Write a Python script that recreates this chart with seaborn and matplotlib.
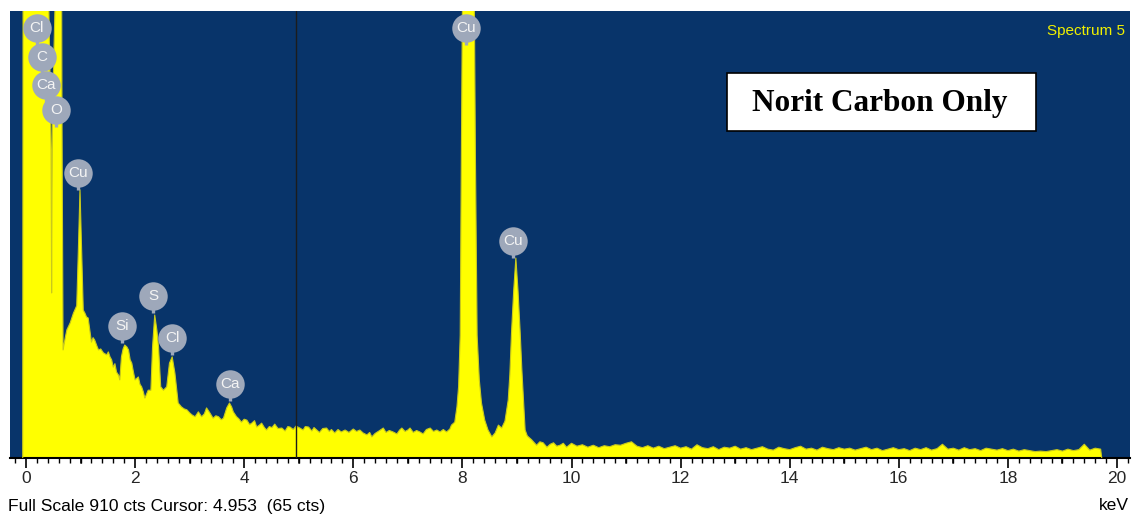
import numpy as np
import matplotlib
matplotlib.use("Agg")
import matplotlib.pyplot as plt
import seaborn as sns
from matplotlib.ticker import MultipleLocator
from matplotlib.patches import Rectangle

# Espectro EDS (keV, cuentas)
energia_bajo = [-0.06, -0.05, 0.41, 0.42, 0.45, 0.46, 0.47, 0.48, 0.49, 0.53, 0.54, 0.64,
                0.66, 0.68, 0.72, 0.75, 0.81, 0.87, 0.93, 0.96, 0.99, 1.02, 1.05, 1.08,
                1.11, 1.14, 1.17, 1.20, 1.23, 1.26, 1.30, 1.33, 1.37, 1.42, 1.48, 1.51,
                1.54, 1.57, 1.60, 1.63, 1.66, 1.70, 1.72, 1.75, 1.78, 1.81, 1.85, 1.88,
                1.91, 1.94, 1.97, 2.00, 2.06, 2.09, 2.12, 2.15, 2.18, 2.21, 2.24, 2.29,
                2.32, 2.36, 2.40, 2.43, 2.47, 2.52, 2.58, 2.63, 2.68, 2.73, 2.79, 2.85,
                2.90, 2.95, 3.00, 3.04, 3.10, 3.16, 3.22, 3.27, 3.31, 3.37, 3.43, 3.48,
                3.53, 3.58, 3.62, 3.68, 3.73, 3.77, 3.80, 3.86, 3.90, 3.95, 4.00]
cuentas_bajo = [0, 1500, 1500, 910, 720, 627, 336, 627, 720, 910, 1500, 1500,
                700, 220, 245, 261, 275, 295, 310, 423, 546, 423, 301, 295,
                287, 285, 261, 236, 245, 240, 228, 220, 222, 214, 210, 216,
                206, 200, 185, 192, 175, 168, 159, 206, 222, 230, 226, 220,
                200, 193, 175, 159, 165, 150, 145, 135, 122, 130, 138, 138,
                226, 291, 260, 226, 145, 138, 145, 193, 206, 173, 112, 104,
                100, 98, 92, 88, 84, 94, 84, 90, 102, 92, 81, 86,
                84, 78, 81, 102, 112, 104, 94, 84, 80, 73, 79]

energia_medio = [4.05, 4.10, 4.14, 4.19, 4.23, 4.28, 4.32, 4.37, 4.41, 4.46, 4.51, 4.56,
                 4.62, 4.69, 4.75, 4.80, 4.84, 4.90, 4.95, 5.02, 5.08, 5.12, 5.18, 5.24,
                 5.28, 5.33, 5.38, 5.44, 5.51, 5.56, 5.60, 5.66, 5.72, 5.78, 5.85, 5.92,
                 6.00, 6.06, 6.12, 6.18, 6.25, 6.30, 6.34, 6.40, 6.47, 6.55, 6.60, 6.66,
                 6.73, 6.80, 6.85, 6.89, 6.95, 7.00, 7.04, 7.10, 7.16, 7.22, 7.28, 7.34,
                 7.41, 7.47, 7.53, 7.59, 7.65, 7.71, 7.77, 7.80, 7.86, 7.90, 7.93, 7.96,
                 7.98, 8.00, 8.02, 8.20, 8.22, 8.24, 8.27, 8.31, 8.35, 8.41, 8.47, 8.54,
                 8.60, 8.66, 8.72, 8.78, 8.84, 8.87, 8.90, 8.94, 8.98, 9.02, 9.06, 9.09,
                 9.12, 9.15, 9.19, 9.27, 9.36, 9.42, 9.48, 9.55, 9.61, 9.67, 9.73, 9.79,
                 9.85, 9.91]
cuentas_medio = [77, 68, 71, 76, 63, 67, 71, 62, 57, 64, 62, 69,
                 60, 61, 55, 64, 63, 58, 65, 61, 57, 64, 63, 55,
                 62, 57, 52, 60, 61, 54, 58, 51, 58, 53, 57, 52,
                 59, 54, 57, 51, 47, 52, 43, 50, 55, 61, 52, 56,
                 53, 49, 57, 61, 54, 57, 61, 52, 56, 53, 49, 58,
                 61, 54, 57, 53, 58, 53, 59, 67, 73, 104, 145, 250,
                 600, 910, 1400, 1400, 910, 600, 250, 159, 112, 77, 57, 43,
                 51, 67, 61, 75, 118, 170, 254, 340, 407, 340, 254, 180,
                 118, 57, 45, 37, 26, 33, 31, 22, 28, 31, 24, 26,
                 30, 22]

energia_alto = [10.0, 10.1, 10.2, 10.3, 10.4, 10.5, 10.6, 10.7, 10.8, 10.9,
                11.0, 11.1, 11.2, 11.3, 11.4, 11.5, 11.6, 11.7, 11.8, 11.9,
                12.0, 12.1, 12.2, 12.3, 12.4, 12.5, 12.6, 12.7, 12.8, 12.9,
                13.0, 13.1, 13.2, 13.3, 13.4, 13.5, 13.6, 13.7, 13.8, 13.9,
                14.0, 14.1, 14.2, 14.3, 14.4, 14.5, 14.6, 14.7, 14.8, 14.9,
                15.0, 15.1, 15.2, 15.3, 15.4, 15.5, 15.6, 15.7, 15.8, 15.9,
                16.0, 16.1, 16.2, 16.3, 16.4, 16.5, 16.6, 16.7, 16.8, 16.9,
                17.0, 17.1, 17.2, 17.3, 17.4, 17.5, 17.6, 17.7, 17.8, 17.9,
                18.0, 18.1, 18.2, 18.3, 18.4, 18.5, 18.6, 18.7, 18.8, 18.9,
                19.0, 19.1, 19.2, 19.3, 19.4, 19.5, 19.6, 19.7, 19.72]
cuentas_alto = [30, 24, 27, 22, 26, 21, 25, 23, 27, 26,
                30, 33, 24, 21, 25, 20, 24, 19, 22, 25,
                20, 23, 18, 27, 21, 19, 23, 17, 22, 20,
                24, 18, 21, 17, 20, 23, 18, 16, 22, 19,
                17, 21, 24, 18, 20, 16, 22, 19, 17, 21,
                18, 20, 16, 19, 22, 17, 20, 15, 18, 21,
                17, 19, 15, 20, 17, 21, 16, 19, 28, 18,
                20, 16, 21, 17, 19, 15, 20, 18, 16, 19,
                15, 18, 14, 17, 15, 13, 14, 13, 15, 17,
                14, 18, 15, 17, 28, 16, 20, 18, 0]

# Etiquetas de elementos (nombre, keV, cuentas del centro del circulo)
elementos = ["Cl", "C", "Ca", "O", "Cu", "Si", "S", "Cl", "Ca", "Cu", "Cu"]
elem_kev = [0.20, 0.29, 0.37, 0.55, 0.95, 1.76, 2.33, 2.68, 3.74, 8.07, 8.93]
elem_cts = [875, 816, 759, 708, 580, 269, 330, 244, 151, 875, 442]

escala_total = 910
cursor_kev = 4.953
cursor_cts = 65

energia = np.array(energia_bajo + energia_medio + energia_alto)
cuentas = np.array(cuentas_bajo + cuentas_medio + cuentas_alto)

sns.set_theme(style="white")
plt.rcParams["font.family"] = ["Liberation Sans", "DejaVu Sans"]

fondo = "#08346a"
amarillo = "#ffff00"

fig = plt.figure(figsize=(11.35, 5.16), dpi=100, facecolor="white")
ax = fig.add_axes([10 / 1135, 58 / 516, 1120 / 1135, 447 / 516])
ax.set_facecolor(fondo)

ax.fill_between(energia, 0, cuentas, color=amarillo, linewidth=0, zorder=2)
sns.lineplot(x=energia, y=cuentas, ax=ax, color="#c9c91c", linewidth=0.8,
             sort=False, estimator=None, zorder=3)

# cursor
ax.axvline(cursor_kev, color="#1c1c1c", linewidth=1.0, zorder=4)

# etiquetas de picos
tallo = 35
for nombre, xk, yc in zip(elementos, elem_kev, elem_cts):
    ax.plot([xk, xk], [yc, yc - tallo], color="#9ea8ba", linewidth=2.4,
            zorder=5, clip_on=False, solid_capstyle="butt")
    ax.plot(xk, yc, marker="o", markersize=20.5, color="#9ea8ba",
            markeredgewidth=0, zorder=6, clip_on=False)
    ax.text(xk, yc, nombre, color="#f4f4f4", fontsize=11, ha="center",
            va="center", zorder=7, clip_on=False)

ax.set_xlim(-0.293, 20.238)
ax.set_ylim(0, escala_total)

ax.xaxis.set_major_locator(MultipleLocator(2))
ax.xaxis.set_minor_locator(MultipleLocator(0.2))
ax.tick_params(axis="x", which="major", direction="out", length=7, width=1.2,
               color="black", labelsize=12.5, pad=2.5, bottom=True)
ax.tick_params(axis="x", which="minor", direction="out", length=3.5, width=1,
               color="black", bottom=True)
ax.set_yticks([])
ax.set_xlabel("")
ax.set_ylabel("")

for lado in ["top", "right", "left"]:
    ax.spines[lado].set_visible(False)
ax.spines["bottom"].set_color("black")
ax.spines["bottom"].set_linewidth(1.5)

# ticks medianos en cada keV impar
for k in range(1, 20, 2):
    ax.plot([k, k], [0, -11], color="black", linewidth=1.2, clip_on=False, zorder=1)

ax.text(0.9955, 0.972, "Spectrum 5", transform=ax.transAxes, color="#f0f000",
        fontsize=11, ha="right", va="top")

# recuadro del titulo
caja = Rectangle((727 / 1135, 1 - 131 / 516), 309 / 1135, 58 / 516,
                 transform=fig.transFigure, facecolor="white", edgecolor="black",
                 linewidth=1.2, zorder=10)
fig.add_artist(caja)
fig.text(880 / 1135, 1 - 103 / 516, "Norit Carbon Only", fontsize=22.5,
         fontweight="bold", family="Liberation Serif", ha="center", va="center",
         color="black", zorder=11)

fig.text(8 / 1135, 1 - 506 / 516,
         f"Full Scale {escala_total} cts Cursor: {cursor_kev:.3f}  ({cursor_cts} cts)",
         fontsize=12.6, ha="left", va="center", color="black")
fig.text(1129 / 1135, 1 - 506 / 516, "keV", fontsize=12.6, ha="right",
         va="center", color="black")

fig.savefig("out.png", dpi=100, facecolor="white")
